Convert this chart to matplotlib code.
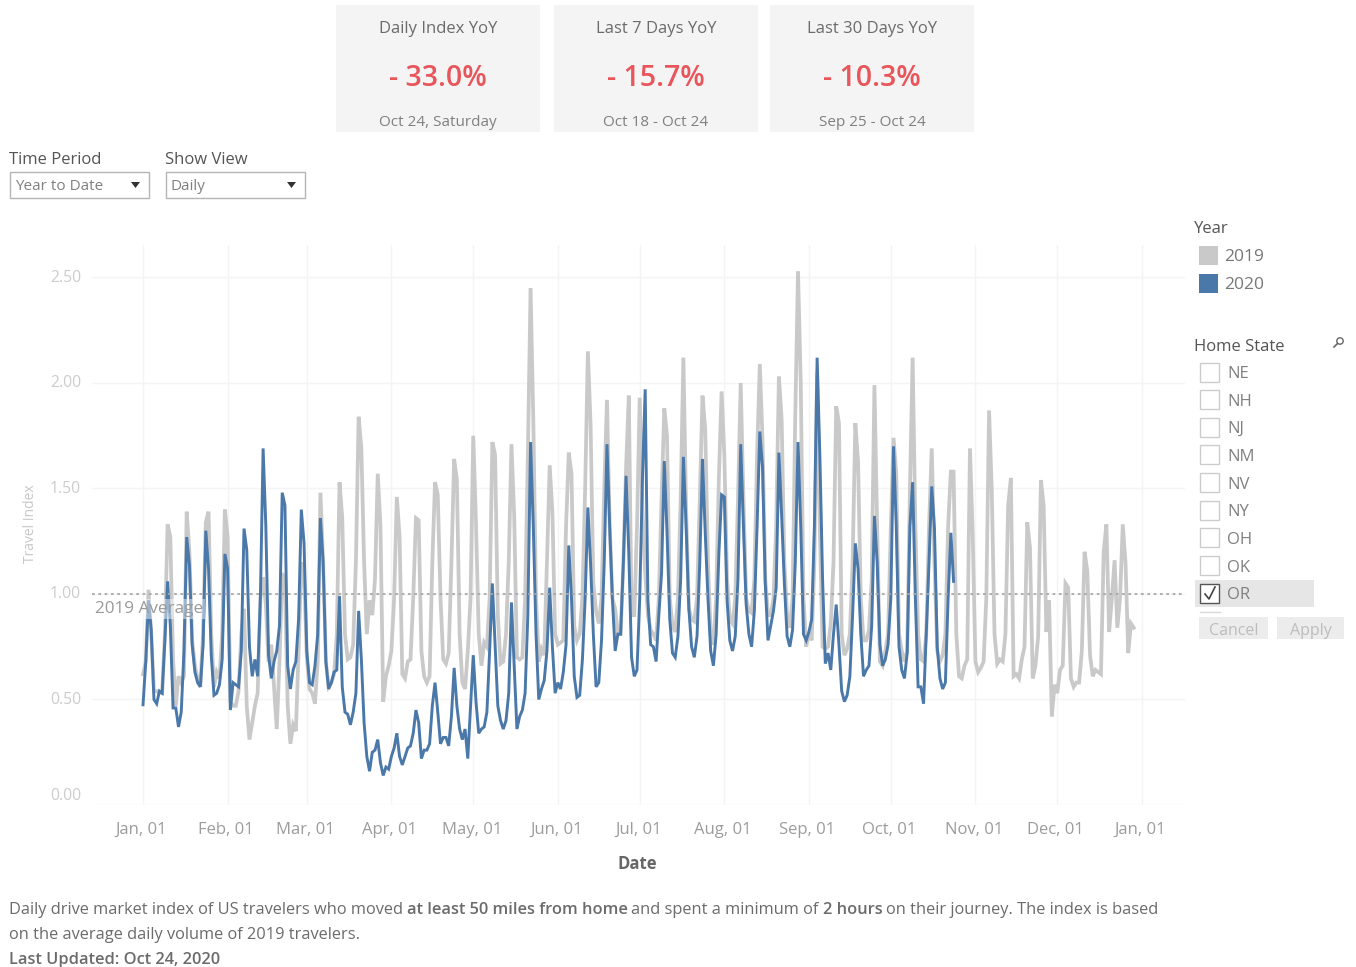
import matplotlib
matplotlib.use("Agg")
import matplotlib.pyplot as plt
from matplotlib.patches import Rectangle, Polygon
from matplotlib.transforms import ScaledTranslation

plt.rcParams['font.family'] = ['Open Sans', 'DejaVu Sans']

W, H = 1356, 967

# daily travel index, one row per week
index_2019 = [
    .62, .68, 1.02, .81, .54, .54, .53,
    .53, .81, 1.33, 1.27, .69, .47, .61,
    .58, .61, 1.39, 1.20, .78, .66, .60,
    .56, .81, 1.34, 1.39, .81, .56, .63,
    .60, .81, 1.40, 1.27, .49, .47, .47,
    .54, .81, .93, .47, .31, .39, .47,
    .53, .98, 1.08, .95, .68, .76, .56,
    .36, .68, 1.10, 1.05, .47, .29, .38,
    .35, .73, 1.15, 1.10, .70, .55, .53,
    .48, .68, 1.48, 1.15, .68, .56, .58,
    .62, .81, 1.53, 1.36, .81, .69, .70,
    .76, 1.15, 1.84, 1.69, 1.15, .81, .97,
    .90, 1.07, 1.57, 1.32, .49, .61, .66,
    .73, .98, 1.46, 1.27, .62, .60, .68,
    .69, .98, 1.36, 1.35, .73, .61, .58,
    .61, 1.15, 1.53, 1.47, .98, .69, .67,
    .72, 1.15, 1.64, 1.54, .81, .58, .55,
    .73, .98, 1.75, 1.34, .81, .66, .77,
    .75, .98, 1.72, 1.66, .90, .67, .68,
    .81, 1.15, 1.71, 1.37, .70, .69, .70,
    .98, 1.65, 2.45, 1.83, .98, .68, .74,
    .71, 1.15, 1.61, 1.39, .81, .76, .77,
    .78, 1.32, 1.67, 1.57, .85, .78, .81,
    .98, 1.50, 2.15, 1.80, 1.05, .92, .86,
    .98, 1.50, 1.92, 1.32, .98, .93, .81,
    .81, 1.15, 1.60, 1.94, .90, .90, 1.32,
    1.93, 1.40, 1.10, .90, .83, .81, .78,
    .98, 1.45, 1.88, 1.75, .98, .85, .82,
    .98, 1.45, 2.12, 1.40, .93, .88, .87,
    .98, 1.45, 1.94, 1.78, 1.15, .81, .76,
    .98, 1.55, 1.96, 1.66, 1.07, .88, .86,
    .98, 1.45, 2.00, 1.45, .98, .92, .91,
    1.07, 1.66, 2.09, 1.73, 1.07, .90, .90,
    .98, 1.32, 2.03, 1.83, 1.15, .90, .84,
    .98, 1.85, 2.53, 2.00, .98, .75, .82,
    .78, 1.15, 2.05, 1.30, .75, .74, .75,
    .86, 1.15, 1.89, 1.81, .81, .71, .74,
    .81, 1.15, 1.81, 1.63, .98, .78, .78,
    .83, 1.07, 1.99, 1.32, .68, .66, .73,
    .81, 1.32, 1.74, 1.57, .81, .73, .68,
    .73, 1.49, 2.12, 1.32, .81, .69, .68,
    .81, 1.32, 1.69, 1.15, .73, .68, .71,
    .81, 1.32, 1.58, 1.58, .81, .61, .60,
    .66, .69, 1.69, 1.29, .68, .63, .65,
    .68, .98, 1.87, 1.49, .81, .67, .69,
    .68, .81, 1.42, 1.55, .61, .62, .60,
    .69, .75, 1.34, 1.22, .60, .66, .80,
    1.54, 1.42, .82, .97, .42, .57, .53,
    .64, .66, 1.05, 1.03, .60, .56, .58,
    .58, .73, 1.20, 1.11, .71, .61, .64,
    .63, .62, 1.20, 1.33, .82, .98, 1.16,
    .84, .98, 1.33, 1.15, .72, .86, .84,
]

index_2020 = [
    .475, .68, .97, .83, .50, .48, .54,
    .53, .78, 1.06, .85, .46, .46, .37,
    .44, .73, 1.27, 1.14, .76, .63, .58,
    .56, .76, 1.30, 1.12, .71, .52, .53,
    .57, .69, 1.19, 1.12, .45, .58, .57,
    .56, .73, 1.31, 1.21, .75, .61, .69,
    .61, .98, 1.69, 1.32, .71, .60, .68,
    .73, .85, 1.48, 1.42, .66, .55, .64,
    .68, .88, 1.40, 1.24, .73, .58, .57,
    .66, .81, 1.36, 1.15, .68, .55, .58,
    .63, .64, .99, .56, .44, .43, .38,
    .44, .53, .92, .69, .39, .23, .16,
    .25, .26, .31, .20, .14, .18, .17,
    .23, .27, .34, .23, .19, .23, .27,
    .28, .34, .45, .39, .22, .26, .26,
    .29, .47, .58, .44, .29, .32, .32,
    .28, .42, .65, .47, .36, .31, .36,
    .22, .47, .71, .49, .34, .36, .37,
    .44, .73, 1.05, .76, .47, .40, .36,
    .40, .53, .96, .66, .36, .42, .45,
    .53, .90, 1.72, 1.32, .81, .50, .55,
    .59, .73, 1.03, .75, .53, .58, .55,
    .63, .76, 1.23, .98, .61, .51, .52,
    .69, .98, 1.41, 1.14, .81, .56, .58,
    .78, 1.15, 1.71, 1.32, .97, .73, .81,
    .81, 1.15, 1.56, 1.19, .70, .61, .64,
    .98, 1.55, 1.97, .97, .76, .75, .68,
    .90, 1.10, 1.63, 1.29, .88, .72, .70,
    .80, 1.07, 1.65, 1.32, .93, .75, .70,
    .80, 1.15, 1.64, 1.29, .98, .73, .66,
    .81, 1.19, 1.47, 1.46, .97, .78, .73,
    .80, 1.07, 1.71, 1.32, .95, .81, .75,
    .92, 1.32, 1.77, 1.60, 1.05, .78, .85,
    .92, 1.03, 1.67, 1.37, 1.05, .80, .75,
    .83, 1.15, 1.72, 1.32, .81, .78, .82,
    .88, 1.32, 2.12, 1.66, 1.07, .67, .72,
    .64, .81, .95, .76, .54, .49, .52,
    .61, .90, 1.24, 1.12, .81, .61, .64,
    .66, .85, 1.37, 1.15, .76, .66, .69,
    .76, .98, 1.70, 1.32, .75, .64, .60,
    .72, 1.32, 1.53, .98, .56, .56, .48,
    .81, 1.15, 1.51, 1.31, .75, .60, .55,
    .58, .98, 1.29, 1.06,
]

month_days = [0, 31, 60, 91, 121, 152, 182, 213, 244, 274, 305, 335, 366]
month_labels = ["Jan, 01", "Feb, 01", "Mar, 01", "Apr, 01", "May, 01", "Jun, 01", "Jul, 01",
                "Aug, 01", "Sep, 01", "Oct, 01", "Nov, 01", "Dec, 01", "Jan, 01"]
y_ticks = [0, 0.5, 1.0, 1.5, 2.0, 2.5]
y_labels = ["0.00", "0.50", "1.00", "1.50", "2.00", "2.50"]

kpi_titles = ["Daily Index YoY", "Last 7 Days YoY", "Last 30 Days YoY"]
kpi_values = ["- 33.0%", "- 15.7%", "- 10.3%"]
kpi_notes = ["Oct 24, Saturday", "Oct 18 - Oct 24", "Sep 25 - Oct 24"]
states = ["NE", "NH", "NJ", "NM", "NV", "NY", "OH", "OK", "OR"]

fig = plt.figure(figsize=(W / 100, H / 100), dpi=100)

# ---------------------------------------------------
# MAIN CHART
# ---------------------------------------------------
ax = fig.add_axes([92 / W, 1 - 805 / H, (1185 - 92) / W, (805 - 245) / H])
ax.plot(range(len(index_2019)), index_2019, color='#c9c9c9', lw=2.7, solid_joinstyle='miter', zorder=3)
ax.plot(range(len(index_2020)), index_2020, color='#4a78a9', lw=2.1, solid_joinstyle='miter', zorder=4)
ax.axhline(1.0, color='#a8a8a8', lw=1.3, ls=(0, (1.5, 2)), zorder=5)
ax.text(-17.5, 0.93, "2019 Average", fontsize=12.3, color='#9a9a9a', va='center', zorder=6,
        bbox=dict(facecolor='white', alpha=0.45, edgecolor='none', pad=1.5))

ax.set_xlim(-18.7, 381.8)
ax.set_ylim(0, 2.654)
ax.set_xticks(month_days)
ax.set_xticklabels(month_labels, fontsize=12, color='#9c9c9c')
ax.set_yticks(y_ticks)
ax.set_yticklabels(y_labels, fontsize=11.3, color='#cccccc')
ax.get_yticklabels()[0].set_va('bottom')
ax.tick_params(length=0)
ax.tick_params(axis='x', pad=12)
ax.tick_params(axis='y', pad=8)
ax.grid(True, color='#f4f4f4', lw=1)
ax.set_axisbelow(True)
for s in ax.spines.values():
    s.set_visible(False)
# labels sit a little left of their gridlines and the y ones slightly high
for lab in ax.get_xticklabels():
    lab.set_transform(lab.get_transform() + ScaledTranslation(-1.5 / 100, 0, fig.dpi_scale_trans))
for lab in ax.get_yticklabels():
    lab.set_transform(lab.get_transform() + ScaledTranslation(0, 1.5 / 100, fig.dpi_scale_trans))

# ---------------------------------------------------
# DASHBOARD PARTS (pixel coordinates)
# ---------------------------------------------------
ui = fig.add_axes([0, 0, 1, 1], zorder=10)
ui.set_xlim(0, W)
ui.set_ylim(H, 0)
ui.axis('off')
ui.patch.set_alpha(0)

ui.text(30, 524, "Travel Index", rotation=90, fontsize=10, color='#c8c8c8', ha='center', va='center')
ui.text(637, 864, "Date", fontsize=12, color='#666666', fontweight='bold', ha='center', va='center')

# kpi cards
for i, x0 in enumerate([336, 554, 770]):
    ui.add_patch(Rectangle((x0, 5), 204, 127, facecolor='#f4f4f4', edgecolor='none'))
    xc = x0 + 102
    ui.text(xc, 29, kpi_titles[i], fontsize=12, color='#6b6b6b', ha='center', va='center')
    ui.text(xc, 78, kpi_values[i], fontsize=20.5, color='#e8555a', fontweight='semibold', ha='center', va='center')
    ui.text(xc, 123, kpi_notes[i], fontsize=11, color='#808080', ha='center', va='center')

# dropdowns
for x0, x1, title, value in [(10, 149, "Time Period", "Year to Date"), (166, 305, "Show View", "Daily")]:
    ui.text(x0 - 1, 160, title, fontsize=12, color='#555555', va='center')
    ui.add_patch(Rectangle((x0, 172), x1 - x0, 26, facecolor='white', edgecolor='#b5b5b5', lw=1))
    ui.text(x0 + 5, 187, value, fontsize=11, color='#808080', va='center')
    ui.add_patch(Polygon([(x1 - 18, 182), (x1 - 9, 182), (x1 - 13.5, 188)], facecolor='#333333', edgecolor='none'))

# year legend
ui.text(1194, 229, "Year", fontsize=12, color='#555555', va='center')
ui.add_patch(Rectangle((1199, 246), 19, 19, facecolor='#c9c9c9', edgecolor='none'))
ui.add_patch(Rectangle((1199, 274), 19, 19, facecolor='#4a78a9', edgecolor='none'))
ui.text(1224, 257, "2019", fontsize=12.5, color='#777777', va='center')
ui.text(1224, 285, "2020", fontsize=12.5, color='#777777', va='center')

# state filter
ui.text(1194, 347, "Home State", fontsize=12, color='#555555', va='center')
ui.add_patch(plt.Circle((1340, 341), 3.2, facecolor='none', edgecolor='#666666', lw=1))
ui.plot([1337.5, 1334], [343.5, 347], color='#666666', lw=1.2)
ui.add_patch(Rectangle((1195, 580), 119, 27, facecolor='#e6e6e6', edgecolor='none'))
for i, st in enumerate(states):
    yc = 372 + i * 27.65
    edge = '#555555' if st == "OR" else '#cccccc'
    ui.add_patch(Rectangle((1200, yc - 9.5), 19, 19, facecolor='white', edgecolor=edge, lw=1))
    ui.text(1227, yc + 2, st, fontsize=12, color='#808080', va='center')
ui.plot([1205, 1209, 1215], [594, 599, 587], color='#444444', lw=1.2)
ui.plot([1200, 1220], [612, 612], color='#d8d8d8', lw=1)

ui.add_patch(Rectangle((1199, 617), 69, 22, facecolor='#ececec', edgecolor='none'))
ui.add_patch(Rectangle((1277, 617), 67, 22, facecolor='#ececec', edgecolor='none'))
ui.text(1233.5, 631, "Cancel", fontsize=11.5, color='#bdbdbd', ha='center', va='center')
ui.text(1310.5, 631, "Apply", fontsize=11.5, color='#bdbdbd', ha='center', va='center')

# ---------------------------------------------------
# FOOTNOTE
# ---------------------------------------------------
def run_text(x, y, parts):
    renderer = fig.canvas.get_renderer()
    for txt, bold in parts:
        t = ui.text(x, y, txt, fontsize=11.8, color='#6b6b6b', va='center',
                    fontweight='semibold' if bold else 'normal')
        x = ui.transData.inverted().transform(t.get_window_extent(renderer).corners()[2])[0]
        x += 3.8

run_text(9, 910, [("Daily drive market index of US travelers who moved", False),
                  ("at least 50 miles from home", True),
                  ("and spent a minimum of", False),
                  ("2 hours", True),
                  ("on their journey. The index is based", False)])
run_text(9, 935, [("on the average daily volume of 2019 travelers.", False)])
run_text(9, 960, [("Last Updated: Oct 24, 2020", True)])

fig.savefig("out.png", dpi=100)
